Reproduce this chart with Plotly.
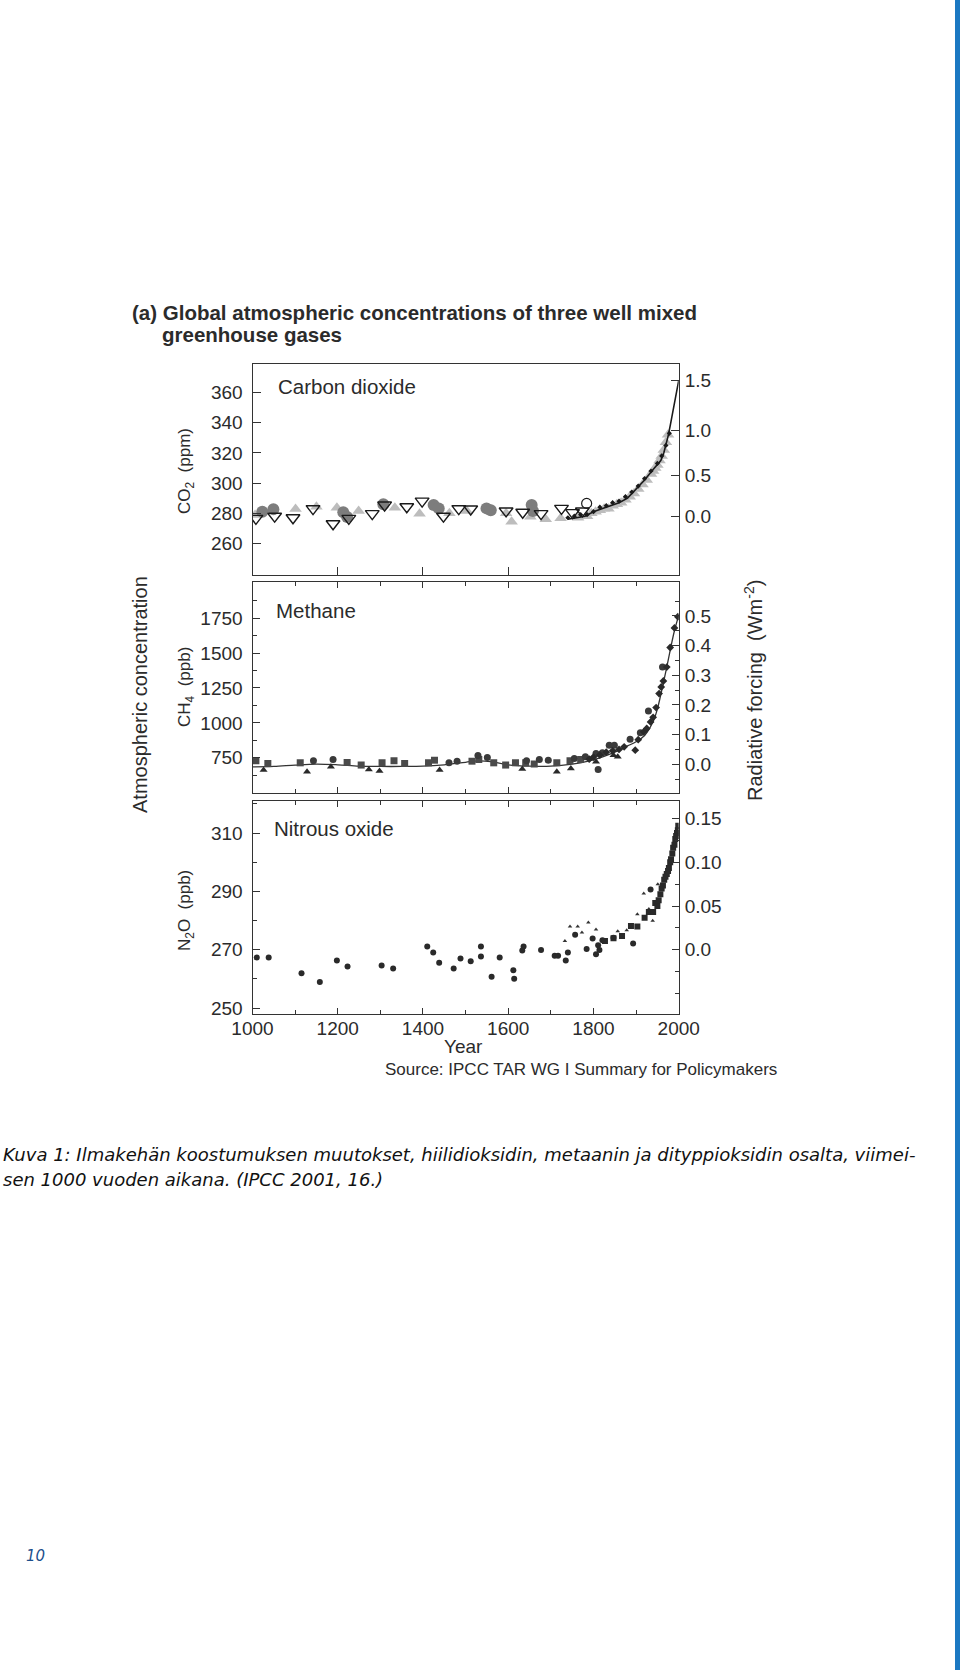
import numpy as np
import plotly.graph_objects as go

W, H = 960, 1670

# --- CO2 (ppm) ---------------------------------------------------------
co2_dtri_year = [1008, 1052, 1095, 1142, 1189, 1226, 1281, 1310, 1362, 1398,
                 1448, 1484, 1512, 1595, 1634, 1677, 1725, 1751, 1774]
co2_dtri_ppm = [276.6, 278, 277, 283, 273, 276.6, 279.7, 285.4, 284.3, 288,
                278, 283, 282.8, 281.5, 280.6, 279.7, 283.2, 280.4, 281.5]
co2_circ_year = [1023, 1049, 1213, 1222, 1307, 1425, 1437, 1549, 1559, 1655, 1658]
co2_circ_ppm = [281, 282.6, 280.6, 277.5, 285.9, 285.4, 283.2, 283.2, 282, 285.4, 281.5]
co2_ltri_year = [1006, 1101, 1150, 1198, 1249, 1334, 1392, 1462, 1503, 1595,
                 1608, 1652, 1688, 1723, 1764, 1785, 1795, 1805, 1815, 1825,
                 1835, 1845, 1855, 1865, 1875, 1885, 1895, 1905, 1915, 1925,
                 1935, 1940, 1945, 1950, 1955, 1960, 1965, 1970, 1975]
co2_ltri_ppm = [278.8, 282.8, 284.3, 283.7, 281.5, 283.7, 279.7, 280, 281.5, 280,
                274.4, 277.7, 276, 276.6, 277, 278, 280, 281, 282, 283,
                283, 285, 286, 287, 289, 291, 293, 296, 299, 302,
                306, 308, 310, 312, 315, 318, 322, 327, 332]
co2_dark_year = [1740, 1755, 1770, 1785, 1800, 1815, 1830, 1845, 1860, 1875,
                 1890, 1905, 1920, 1935, 1950, 1960, 1970, 1978]
co2_dark_ppm = [277, 278, 279, 279, 281, 284, 285, 287, 288, 291,
                294, 298, 303, 308, 313, 318, 325, 333]
co2_ocirc_year = [1784]
co2_ocirc_ppm = [286.5]
co2_line_year = [1740, 1760, 1780, 1800, 1820, 1840, 1860, 1880, 1900, 1920,
                 1940, 1958, 1965, 1970, 1975, 1980, 1985, 1990, 1995, 2000]
co2_line_ppm = [276, 277, 278, 281, 283, 285, 287, 290, 296, 302,
                309, 315, 320, 325, 331, 338, 346, 354, 361, 368]
co2_left_ticks = [260, 280, 300, 320, 340, 360]
co2_rf_ticks = [0.0, 0.5, 1.0, 1.5]

# --- CH4 (ppb) ---------------------------------------------------------
ch4_line_year = [1000, 1050, 1100, 1150, 1200, 1250, 1300, 1350, 1400, 1450,
                 1500, 1530, 1560, 1600, 1650, 1700, 1750, 1800, 1850, 1880,
                 1900, 1920, 1940, 1950, 1960, 1970, 1980, 1990, 2000]
ch4_line_ppb = [685, 688, 698, 705, 700, 690, 688, 688, 690, 700,
                718, 728, 722, 700, 690, 690, 705, 735, 790, 835,
                865, 910, 1010, 1100, 1230, 1370, 1520, 1660, 1770]
ch4_sq_year = [1008, 1036, 1112, 1222, 1255, 1304, 1332, 1357, 1413, 1427,
               1515, 1531, 1566, 1594, 1617, 1641, 1661, 1714, 1745, 1770]
ch4_sq_ppb = [729, 710, 714, 717, 698, 714, 729, 710, 714, 733,
              726, 738, 714, 698, 714, 714, 705, 714, 729, 738]
ch4_circ_year = [1143, 1189, 1461, 1480, 1529, 1551, 1643, 1673, 1694, 1755,
                 1781, 1806, 1811, 1821, 1837, 1849, 1886, 1910, 1929, 1962]
ch4_circ_ppb = [729, 738, 714, 726, 767, 752, 729, 738, 733, 745,
                757, 781, 667, 786, 840, 840, 883, 929, 1086, 1400]
ch4_tri_year = [1026, 1128, 1184, 1273, 1298, 1439, 1633, 1714, 1747, 1806, 1847, 1857]
ch4_tri_ppb = [662, 650, 686, 667, 655, 662, 669, 650, 674, 721, 769, 757]
ch4_dia_year = [1790, 1800, 1815, 1830, 1845, 1860, 1872, 1898, 1905, 1918,
                1925, 1934, 1940, 1947, 1954, 1959, 1964, 1972, 1980, 1990, 1998]
ch4_dia_ppb = [740, 755, 770, 790, 800, 810, 829, 805, 880, 936,
               960, 1007, 1040, 1110, 1210, 1257, 1300, 1400, 1540, 1680, 1760]
ch4_left_ticks = [750, 1000, 1250, 1500, 1750]
ch4_left_minor = [625, 875, 1125, 1375, 1625, 1875]
ch4_rf_ticks = [0.0, 0.1, 0.2, 0.3, 0.4, 0.5]
ch4_rf_minor = [-0.05, 0.05, 0.15, 0.25, 0.35, 0.45, 0.55]

# --- N2O (ppb) ---------------------------------------------------------
n2o_circ_year = [1010, 1038, 1115, 1158, 1198, 1223, 1303, 1330, 1410, 1424,
                 1438, 1472, 1488, 1512, 1536, 1536, 1561, 1580, 1612, 1614,
                 1633, 1636, 1677, 1709, 1717, 1735, 1740, 1757, 1784, 1798,
                 1806, 1814, 1811, 1821, 1847, 1893, 1934]
n2o_circ_ppb = [267.4, 267.4, 262, 259, 266.3, 264.3, 264.6, 263.6, 271.1, 269.1,
                265.6, 263.6, 267, 266.1, 271.1, 267.7, 260.8, 267.4, 263, 260.1,
                269.8, 271.1, 269.9, 268, 268, 266.3, 269.1, 275.2, 270.3, 273.9,
                268.5, 269.9, 271.6, 273.3, 274.1, 272.2, 290.7]
n2o_tri_year = [1733, 1745, 1763, 1773, 1788, 1806, 1857, 1878, 1903, 1918, 1930, 1939, 1951]
n2o_tri_ppb = [273, 278, 278, 275.9, 279.4, 277, 276.4, 276.7, 282.2, 289.3, 284, 280, 292.5]
n2o_sq_year = [1827, 1847, 1867, 1888, 1903, 1920, 1930, 1940, 1945, 1950,
               1953, 1957, 1960, 1963, 1966, 1969, 1972, 1975, 1977, 1980,
               1982, 1985, 1987, 1990, 1992, 1994, 1996, 1998, 1999]
n2o_sq_ppb = [273, 274, 274.7, 278.2, 278, 281, 283, 283, 286, 285,
              287, 289, 291, 292, 294, 295, 296, 297, 298, 300,
              301, 303, 305, 306, 308, 309, 310, 311, 312.5]
n2o_left_ticks = [250, 270, 290, 310]
n2o_left_minor = [260, 280, 300, 320]
n2o_rf_ticks = [0.0, 0.05, 0.10, 0.15]
n2o_rf_minor = [-0.05, -0.025, 0.025, 0.075, 0.125]


def px(v):
    return v / W


def py(v):
    return 1 - v / H


# forcing -> concentration, used only to place the right-hand ticks
def co2_conc(f):
    return [float(v) for v in 278.0 * np.exp(np.asarray(f) / 5.35)]


def ch4_conc(f):
    return [float(v) for v in 704.0 + 2125.0 * np.asarray(f)]


def n2o_conc(f):
    return [float(v) for v in 270.0 + 300.0 * np.asarray(f)]


INK = "#2b2b2b"
FONT = "Liberation Sans, Arial, sans-serif"
XDOM = [px(252.5), px(678.7)]
PANELS = {
    "co2": [py(575), py(364)],
    "ch4": [py(793), py(582)],
    "n2o": [py(1014), py(801)],
}
CO2_RANGE = [239, 379]
CH4_RANGE = [498, 2009]
N2O_RANGE = [248, 321]

fig = go.Figure()


def add(x, y, xa, ya, **kw):
    fig.add_trace(go.Scatter(x=x, y=y, xaxis=xa, yaxis=ya, showlegend=False,
                             hoverinfo="skip", **kw))


# CO2 panel
add(co2_ltri_year, co2_ltri_ppm, "x", "y", mode="markers",
    marker=dict(symbol="triangle-up", size=11, color="#bdbdbd"))
add(co2_circ_year, co2_circ_ppm, "x", "y", mode="markers",
    marker=dict(symbol="circle", size=12, color="#7d7d7d"))
add(co2_line_year, co2_line_ppm, "x", "y", mode="lines",
    line=dict(color="#1a1a1a", width=1.6))
add(co2_dark_year, co2_dark_ppm, "x", "y", mode="markers",
    marker=dict(symbol="diamond", size=4, color="#1a1a1a"))
add(co2_dtri_year, co2_dtri_ppm, "x", "y", mode="markers",
    marker=dict(symbol="triangle-down-open", size=12, color="#1a1a1a",
                line=dict(width=1.4)))
add(co2_ocirc_year, co2_ocirc_ppm, "x", "y", mode="markers",
    marker=dict(symbol="circle-open", size=10, color="#1a1a1a", line=dict(width=1.2)))
# carrier so the forcing axis gets drawn
add(co2_line_year, co2_line_ppm, "x", "y2", mode="lines", opacity=0,
    line=dict(width=0))

# CH4 panel
add(ch4_line_year, ch4_line_ppb, "x2", "y3", mode="lines",
    line=dict(color="#333", width=1.3, shape="spline"))
add(ch4_sq_year, ch4_sq_ppb, "x2", "y3", mode="markers",
    marker=dict(symbol="square", size=7, color="#4a4a4a"))
add(ch4_circ_year, ch4_circ_ppb, "x2", "y3", mode="markers",
    marker=dict(symbol="circle", size=7, color="#3a3a3a"))
add(ch4_tri_year, ch4_tri_ppb, "x2", "y3", mode="markers",
    marker=dict(symbol="triangle-up", size=7, color="#2a2a2a"))
add(ch4_dia_year, ch4_dia_ppb, "x2", "y3", mode="markers",
    marker=dict(symbol="diamond", size=6, color="#2a2a2a"))
add(ch4_line_year, ch4_line_ppb, "x2", "y4", mode="lines", opacity=0,
    line=dict(width=0))

# N2O panel
add(n2o_tri_year, n2o_tri_ppb, "x3", "y5", mode="markers",
    marker=dict(symbol="triangle-up", size=4, color="#333"))
add(n2o_circ_year, n2o_circ_ppb, "x3", "y5", mode="markers",
    marker=dict(symbol="circle", size=6, color="#2a2a2a"))
add(n2o_sq_year, n2o_sq_ppb, "x3", "y5", mode="markers",
    marker=dict(symbol="square", size=6, color="#2a2a2a"))
add(n2o_sq_year, n2o_sq_ppb, "x3", "y6", mode="lines", opacity=0,
    line=dict(width=0))

axis_common = dict(showline=True, linecolor="#333", linewidth=1.2, showgrid=False,
                   zeroline=False, ticks="inside", tickcolor="#333", tickwidth=1.2,
                   automargin=False,
                   tickfont=dict(family=FONT, size=19, color=INK))
right_common = {**axis_common, "showline": False}


def minor_arr(vals):
    return dict(tickmode="array", tickvals=vals, ticklen=4, ticks="inside",
                tickcolor="#333", tickwidth=1.2)


layout_axes = dict(
    xaxis=dict(domain=XDOM, anchor="y", range=[1000, 2000], dtick=200, tick0=1000,
               ticklen=8, mirror=True, showticklabels=False, **axis_common),
    xaxis2=dict(domain=XDOM, anchor="y3", range=[1000, 2000], dtick=200, tick0=1000,
                ticklen=6, mirror="ticks", showticklabels=False,
                minor=dict(dtick=100, ticklen=4, ticks="inside", tickcolor="#333"),
                **axis_common),
    xaxis3=dict(domain=XDOM, anchor="y5", range=[1000, 2000], dtick=200, tick0=1000,
                ticklen=6, mirror="ticks", showticklabels=True, ticklabelstandoff=-3,
                minor=dict(dtick=100, ticklen=4, ticks="inside", tickcolor="#333"),
                **axis_common),
    yaxis=dict(domain=PANELS["co2"], anchor="x", range=CO2_RANGE, tickmode="array",
               tickvals=co2_left_ticks, ticklen=8, mirror=True, ticklabelstandoff=5,
               **axis_common),
    yaxis2=dict(overlaying="y", anchor="x", side="right", range=CO2_RANGE,
                tickmode="array", tickvals=co2_conc(co2_rf_ticks),
                ticktext=[f"{v:.1f}" for v in co2_rf_ticks],
                ticklen=8, ticklabelstandoff=5, **right_common),
    yaxis3=dict(domain=PANELS["ch4"], anchor="x2", range=CH4_RANGE, tickmode="array",
                tickvals=ch4_left_ticks, ticklen=7, mirror=True, ticklabelstandoff=5,
                minor=minor_arr(ch4_left_minor), **axis_common),
    yaxis4=dict(overlaying="y3", anchor="x2", side="right", range=CH4_RANGE,
                tickmode="array", tickvals=ch4_conc(ch4_rf_ticks),
                ticktext=[f"{v:.1f}" for v in ch4_rf_ticks],
                ticklen=7, ticklabelstandoff=5,
                minor=minor_arr(ch4_conc(ch4_rf_minor)), **right_common),
    yaxis5=dict(domain=PANELS["n2o"], anchor="x3", range=N2O_RANGE, tickmode="array",
                tickvals=n2o_left_ticks, ticklen=7, mirror=True, ticklabelstandoff=5,
                minor=minor_arr(n2o_left_minor), **axis_common),
    yaxis6=dict(overlaying="y5", anchor="x3", side="right", range=N2O_RANGE,
                tickmode="array", tickvals=n2o_conc(n2o_rf_ticks),
                ticktext=[f"{v:.2f}" if v else "0.0" for v in n2o_rf_ticks],
                ticklen=7, ticklabelstandoff=5,
                minor=minor_arr(n2o_conc(n2o_rf_minor)), **right_common),
)


def note(text, x, y, size=18, xanchor="left", yanchor="middle", angle=0,
         family=FONT, color=INK, **kw):
    fig.add_annotation(text=text, x=px(x), y=py(y), xref="paper", yref="paper",
                       xanchor=xanchor, yanchor=yanchor, textangle=angle, showarrow=False,
                       font=dict(family=family, size=size, color=color), **kw)


# chart texts
note("<b>(a) Global atmospheric concentrations of three well mixed</b>", 130, 312, size=20.5)
note("<b>greenhouse gases</b>", 160, 335, size=20.5)
note("Carbon dioxide", 276, 386, size=20.5)
note("Methane", 274, 610, size=20.5)
note("Nitrous oxide", 272, 828, size=20.5)
note("CO<sub>2</sub>&nbsp; (ppm)", 186, 471, size=17, xanchor="center", angle=-90)
note("CH<sub>4</sub>&nbsp; (ppb)", 186, 687, size=17, xanchor="center", angle=-90)
note("N<sub>2</sub>O&nbsp; (ppb)", 186, 911, size=17, xanchor="center", angle=-90)
note("Atmospheric concentration", 140, 695, size=20, xanchor="center", angle=-90)
note("Radiative forcing&nbsp; (Wm<sup>-2</sup>)", 754, 691, size=20, xanchor="center",
     angle=-90)
note("Year", 463, 1046, size=19, xanchor="center")
note("Source: IPCC TAR WG I Summary for Policymakers", 383, 1069, size=17)

# caption and page furniture
CAP = "DejaVu Sans, Verdana, sans-serif"
note("<i>Kuva 1: Ilmakehän koostumuksen muutokset, hiilidioksidin, metaanin ja "
     "dityppioksidin osalta, viimei-</i>", 1, 1154, size=18, family=CAP, color="#111")
note("<i>sen 1000 vuoden aikana. (IPCC 2001, 16.)</i>", 1, 1179, size=18, family=CAP,
     color="#111")
note("<i>10</i>", 24, 1556, size=15, family=CAP, color="#1d4f8c")

fig.add_shape(type="rect", xref="paper", yref="paper", x0=px(955), x1=1, y0=0, y1=1,
              fillcolor="#1b78c2", line=dict(width=0), layer="above")

fig.update_layout(
    width=W, height=H, autosize=False,
    margin=dict(l=0, r=0, t=0, b=0, pad=0, autoexpand=False),
    paper_bgcolor="white", plot_bgcolor="white",
    **layout_axes,
)

fig.write_html(
    "out.html",
    config={"displayModeBar": False},
    post_script="document.body.style.margin='0';"
                "document.documentElement.style.overflow='hidden';",
)
